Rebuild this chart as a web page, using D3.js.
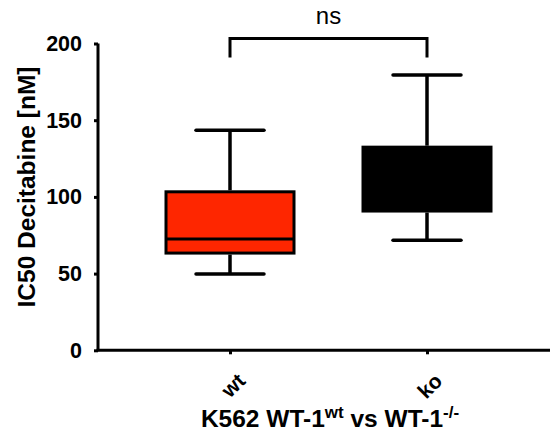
<!DOCTYPE html>
<html>
<head>
<meta charset="utf-8">
<script src="https://cdn.jsdelivr.net/npm/d3@7"></script>
<style>
  body { margin: 0; background: #fff; }
  svg { display: block; font-family: "Liberation Sans", Arial, sans-serif; }
</style>
</head>
<body>
<div id="chart"></div>
<script>
// box plot data
const groups = ["wt", "ko"];
const mins = [49.8, 71.7];
const q1s = [62.4, 89.8];
const medians = [72.6, 113];
const q3s = [104.3, 133.4];
const maxs = [143.5, 179.5];
const fills = ["#fe2600", "#000000"];
const yTicks = [0, 50, 100, 150, 200];

const width = 550, height = 434;

const svg = d3.select("#chart").append("svg")
    .attr("width", width)
    .attr("height", height);

const y = d3.scaleLinear().domain([0, 200]).range([350.3, 43.5]);
const x = d3.scalePoint().domain(groups).range([230, 427]);

const boxW = 131, capW = 68;

const data = groups.map((g, i) => ({
    group: g, min: mins[i], q1: q1s[i], median: medians[i], q3: q3s[i], max: maxs[i], fill: fills[i]
}));

// y axis
const yAxis = svg.append("g")
    .attr("transform", "translate(98,0)")
    .call(d3.axisLeft(y).tickValues(yTicks).tickSize(4).tickPadding(12));
yAxis.select(".domain").attr("stroke", "#000").attr("stroke-width", 3)
    .attr("d", `M0,${y(200)}V${y(0) + 1}`);
yAxis.selectAll(".tick line").attr("stroke", "#000").attr("stroke-width", 3);
yAxis.selectAll(".tick text")
    .attr("font-size", 21.5).attr("font-weight", "bold").attr("fill", "#000")
    .attr("font-family", "Liberation Sans, Arial, sans-serif");

// x axis
const xAxis = svg.append("g")
    .attr("transform", `translate(0,${y(0)})`)
    .call(d3.axisBottom(x).tickSize(4).tickPadding(6));
xAxis.select(".domain").attr("stroke", "#000").attr("stroke-width", 3)
    .attr("d", `M96.5,0H550`);
xAxis.selectAll(".tick line").attr("stroke", "#000").attr("stroke-width", 3);
xAxis.selectAll(".tick text")
    .attr("font-size", 21).attr("font-weight", "bold").attr("fill", "#000")
    .attr("font-family", "Liberation Sans, Arial, sans-serif")
    .attr("text-anchor", "end")
    .attr("dy", 0)
    .attr("transform", "translate(9,25) rotate(-45)");

// boxes
const box = svg.selectAll(".box").data(data).enter()
    .append("g").attr("class", "box");

box.append("line")
    .attr("x1", d => x(d.group)).attr("x2", d => x(d.group))
    .attr("y1", d => y(d.max)).attr("y2", d => y(d.q3))
    .attr("stroke", "#000").attr("stroke-width", 3.5);

box.append("line")
    .attr("x1", d => x(d.group)).attr("x2", d => x(d.group))
    .attr("y1", d => y(d.q1)).attr("y2", d => y(d.min))
    .attr("stroke", "#000").attr("stroke-width", 3.5);

box.append("line")
    .attr("x1", d => x(d.group) - capW / 2).attr("x2", d => x(d.group) + capW / 2)
    .attr("y1", d => y(d.max)).attr("y2", d => y(d.max))
    .attr("stroke", "#000").attr("stroke-width", 3.5).attr("stroke-linecap", "round");

box.append("line")
    .attr("x1", d => x(d.group) - capW / 2).attr("x2", d => x(d.group) + capW / 2)
    .attr("y1", d => y(d.min)).attr("y2", d => y(d.min))
    .attr("stroke", "#000").attr("stroke-width", 3.5).attr("stroke-linecap", "round");

box.append("rect")
    .attr("x", d => x(d.group) - boxW / 2 + 1.5)
    .attr("width", boxW - 3)
    .attr("y", d => y(d.q3) + 1.5)
    .attr("height", d => y(d.q1) - y(d.q3) - 3)
    .attr("fill", d => d.fill)
    .attr("stroke", "#000").attr("stroke-width", 3);

box.append("line")
    .attr("x1", d => x(d.group) - boxW / 2 + 1.5).attr("x2", d => x(d.group) + boxW / 2 - 1.5)
    .attr("y1", d => y(d.median)).attr("y2", d => y(d.median))
    .attr("stroke", "#000").attr("stroke-width", 3);

// significance bracket
const bracketY = 38.5, bracketDrop = 57.5;
svg.append("path")
    .attr("d", `M${x("wt")},${bracketDrop}V${bracketY}H${x("ko")}V${bracketDrop}`)
    .attr("fill", "none").attr("stroke", "#000").attr("stroke-width", 3);

svg.append("text")
    .attr("x", (x("wt") + x("ko")) / 2)
    .attr("y", 24)
    .attr("text-anchor", "middle")
    .attr("font-size", 24)
    .text("ns");

// axis titles
svg.append("text")
    .attr("transform", "translate(35,187) rotate(-90)")
    .attr("text-anchor", "middle")
    .attr("font-size", 24.5).attr("font-weight", "bold")
    .text("IC50 Decitabine [nM]");

const xt = svg.append("text")
    .attr("x", 330).attr("y", 427)
    .attr("text-anchor", "middle")
    .attr("font-size", 24.5).attr("font-weight", "bold");
xt.append("tspan").text("K562 WT-1");
xt.append("tspan").attr("font-size", 17).attr("dy", -9).text("wt");
xt.append("tspan").attr("dy", 9).text(" vs WT-1");
xt.append("tspan").attr("font-size", 17).attr("dy", -9).text("-/-");
</script>
</body>
</html>
